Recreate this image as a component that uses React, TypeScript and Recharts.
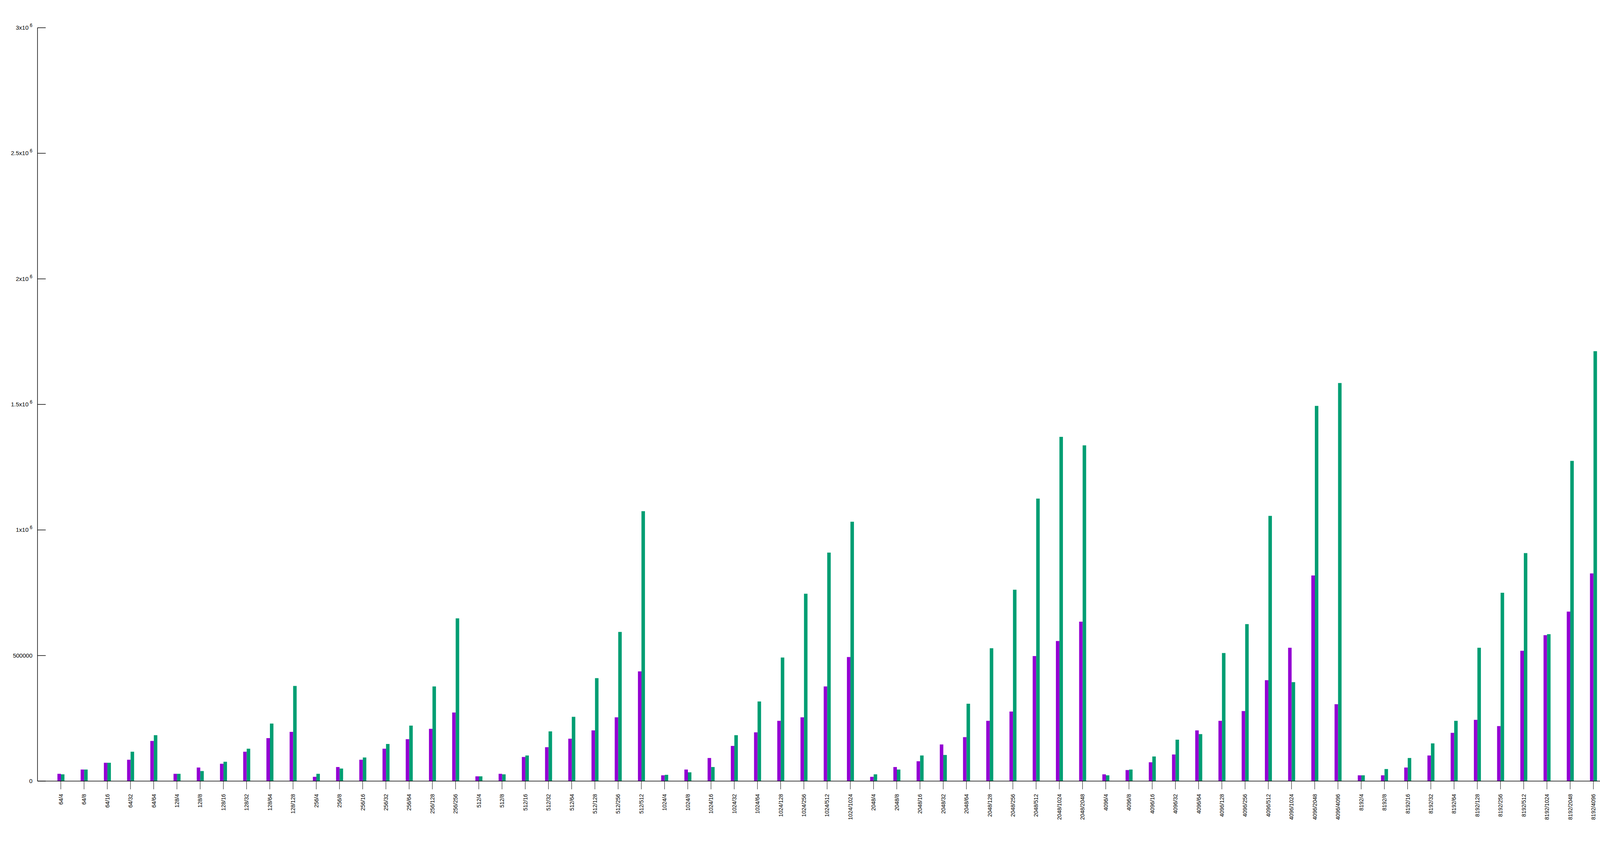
import React from "react"
import { BarChart, Bar, XAxis, YAxis, Legend } from "recharts"

const categories = [
  "64/4", "64/8", "64/16", "64/32", "64/64",
  "128/4", "128/8", "128/16", "128/32", "128/64", "128/128",
  "256/4", "256/8", "256/16", "256/32", "256/64", "256/128", "256/256",
  "512/4", "512/8", "512/16", "512/32", "512/64", "512/128", "512/256", "512/512",
  "1024/4", "1024/8", "1024/16", "1024/32", "1024/64", "1024/128", "1024/256", "1024/512", "1024/1024",
  "2048/4", "2048/8", "2048/16", "2048/32", "2048/64", "2048/128", "2048/256", "2048/512", "2048/1024", "2048/2048",
  "4096/4", "4096/8", "4096/16", "4096/32", "4096/64", "4096/128", "4096/256", "4096/512", "4096/1024", "4096/2048", "4096/4096",
  "8192/4", "8192/8", "8192/16", "8192/32", "8192/64", "8192/128", "8192/256", "8192/512", "8192/1024", "8192/2048", "8192/4096", "8192/8192",
  "16384/4", "16384/8", "16384/16", "16384/32", "16384/64", "16384/128", "16384/256", "16384/512", "16384/1024", "16384/2048", "16384/4096", "16384/8192", "16384/16384",
  "32768/64", "32768/128", "32768/256", "32768/512", "32768/1024", "32768/2048", "32768/4096", "32768/8192", "32768/16384",
  "65536/64", "65536/128", "65536/256", "65536/512", "65536/1024", "65536/2048", "65536/4096", "65536/8192", "65536/16384",
  "131072/64", "131072/128", "131072/256", "131072/512", "131072/1024", "131072/2048", "131072/4096", "131072/8192", "131072/16384",
  "262144/64", "262144/128", "262144/256", "262144/512", "262144/1024", "262144/2048", "262144/4096", "262144/8192", "262144/16384",
  "524288/64", "524288/128", "524288/256", "524288/512", "524288/1024", "524288/2048", "524288/4096", "524288/8192", "524288/16384",
]

// values in thousands
const baseValues = [
  29, 46, 73, 85, 160,
  29, 54, 69, 117, 171, 196,
  17, 56, 85, 129, 167, 208, 273,
  19, 29, 96, 135, 169, 202, 254, 437,
  23, 46, 92, 140, 194, 240, 254, 377, 494,
  17, 56, 79, 146, 175, 240, 277, 498, 558, 635,
  27, 44, 75, 106, 202, 240, 279, 402, 531, 819, 306,
  23, 23, 54, 102, 192, 244, 219, 519, 581, 675, 827, 827,
  10, 19, 35, 85, 146, 169, 279, 417, 531, 598, 614, 885, 662,
  85, 217, 267, 465, 573, 669, 831, 827, 989,
  85, 167, 260, 392, 406, 737, 775, 879, 969,
  100, 150, 219, 321, 377, 685, 723, 721, 694,
  106, 158, 240, 325, 456, 631, 664, 671, 750,
  112, 146, 183, 342, 360, 621, 575, 625, 800,
]

const gzipValues = [
  27, 46, 73, 117, 183,
  29, 40, 77, 129, 229, 379,
  29, 50, 94, 148, 221, 377, 648,
  19, 27, 102, 198, 256, 410, 594, 1075,
  25, 35, 56, 183, 317, 492, 746, 910, 1033,
  27, 46, 102, 104, 308, 529, 762, 1125, 1371, 1337,
  23, 46, 98, 165, 187, 510, 625, 1056, 394, 1494, 1585,
  23, 48, 92, 150, 240, 531, 750, 908, 585, 1275, 1712, 1702,
  12, 33, 85, 173, 306, 223, 858, 1064, 1369, 1527, 1752, 1839, 2060,
  240, 262, 810, 1108, 1354, 1112, 1502, 1835, 1635,
  277, 454, 725, 1081, 1737, 1404, 1521, 1829, 2118,
  221, 396, 708, 837, 1816, 1971, 1783, 2148, 2171,
  142, 285, 387, 740, 1375, 1779, 1777, 1891, 2500,
  140, 250, 383, 712, 939, 1702, 2100, 2418, 2712,
]

const yTicks = [0, 500000, 1000000, 1500000, 2000000, 2500000, 3000000]

const seriesNames = ["6-HDD-1-NVMe/base-5", "6-HDD-1-NVMe/gzip-compression-5"]
const seriesColors = ["#9400d3", "#009e73"]

const data = categories.map((c, i) => ({
  name: c,
  base: baseValues[i] * 1000,
  gzip: gzipValues[i] * 1000,
}))

const font = "'Liberation Sans', Arial, sans-serif"

function YTick(props: any) {
  const { x, y, payload } = props
  const v = payload.value as number
  let label: React.ReactNode = String(v)
  if (v >= 1000000) {
    const m = v / 1000000
    label = (
      <>
        <tspan>{m}x10</tspan>
        <tspan dy={-7} fontSize={12}> 6</tspan>
      </>
    )
  }
  return (
    <g>
      <line x1={x} x2={x + 21} y1={y} y2={y} stroke="#000" strokeWidth={1.5} />
      <text x={x - 13} y={y + 5} textAnchor="end" fontSize={15} fontFamily={font} fill="#000">
        {label}
      </text>
    </g>
  )
}

function RightTick(props: any) {
  const { x, y } = props
  return <line x1={x} x2={x - 21} y1={y} y2={y} stroke="#000" strokeWidth={1.5} />
}

function XTick(props: any) {
  const { x, payload } = props
  return (
    <text
      transform={`translate(${x + 5},2032) rotate(-90)`}
      textAnchor="end"
      fontSize={14}
      fontFamily={font}
      fill="#000"
    >
      {payload.value}
    </text>
  )
}

function LegendBox() {
  return (
    <div style={{ fontFamily: font, fontSize: 15, color: "#000" }}>
      {seriesNames.map((n, i) => (
        <div key={n} style={{ display: "flex", alignItems: "center", justifyContent: "flex-end", height: 26 }}>
          <span>{n}</span>
          <span style={{ display: "inline-block", width: 57, height: 13, marginLeft: 11, background: seriesColors[i] }} />
        </div>
      ))}
    </div>
  )
}

export default function App() {
  return (
    <div style={{ position: "absolute", left: 0, top: 0, background: "#fff" }}>
      <BarChart
        width={7680}
        height={2160}
        data={data}
        margin={{ top: 19, right: 31, left: 0, bottom: 0 }}
        barGap={0}
        barSize={9}
      >
        <XAxis
          dataKey="name"
          xAxisId="bottom"
          interval={0}
          height={161}
          padding={{ left: 30, right: 33 }}
          axisLine={{ stroke: "#000", strokeWidth: 1.5 }}
          tickLine={{ stroke: "#000", strokeWidth: 1 }}
          tickSize={21}
          tick={<XTick />}
        />
        <XAxis
          dataKey="name"
          xAxisId="top"
          orientation="top"
          interval={0}
          height={0}
          padding={{ left: 30, right: 33 }}
          axisLine={{ stroke: "#000", strokeWidth: 1.5 }}
          tickLine={{ stroke: "#000", strokeWidth: 1 }}
          tickSize={19}
          tick={false}
        />
        <YAxis
          yAxisId="left"
          width={96}
          domain={[0, 3000000]}
          ticks={yTicks}
          interval={0}
          axisLine={{ stroke: "#000", strokeWidth: 1.5 }}
          tickLine={false}
          tickSize={0}
          tickMargin={0}
          tick={<YTick />}
        />
        <YAxis
          yAxisId="right"
          orientation="right"
          width={0}
          domain={[0, 3000000]}
          ticks={yTicks}
          interval={0}
          axisLine={{ stroke: "#000", strokeWidth: 1.5 }}
          tickLine={false}
          tickSize={0}
          tickMargin={0}
          tick={<RightTick />}
        />
        <Legend
          verticalAlign="top"
          align="right"
          content={<LegendBox />}
          wrapperStyle={{ position: "absolute", top: 39, right: 102, left: "auto", width: "auto" }}
        />
        <Bar
          dataKey="base"
          name={seriesNames[0]}
          fill={seriesColors[0]}
          xAxisId="bottom"
          yAxisId="left"
          isAnimationActive={false}
        />
        <Bar
          dataKey="gzip"
          name={seriesNames[1]}
          fill={seriesColors[1]}
          xAxisId="bottom"
          yAxisId="left"
          isAnimationActive={false}
        />
      </BarChart>
    </div>
  )
}
